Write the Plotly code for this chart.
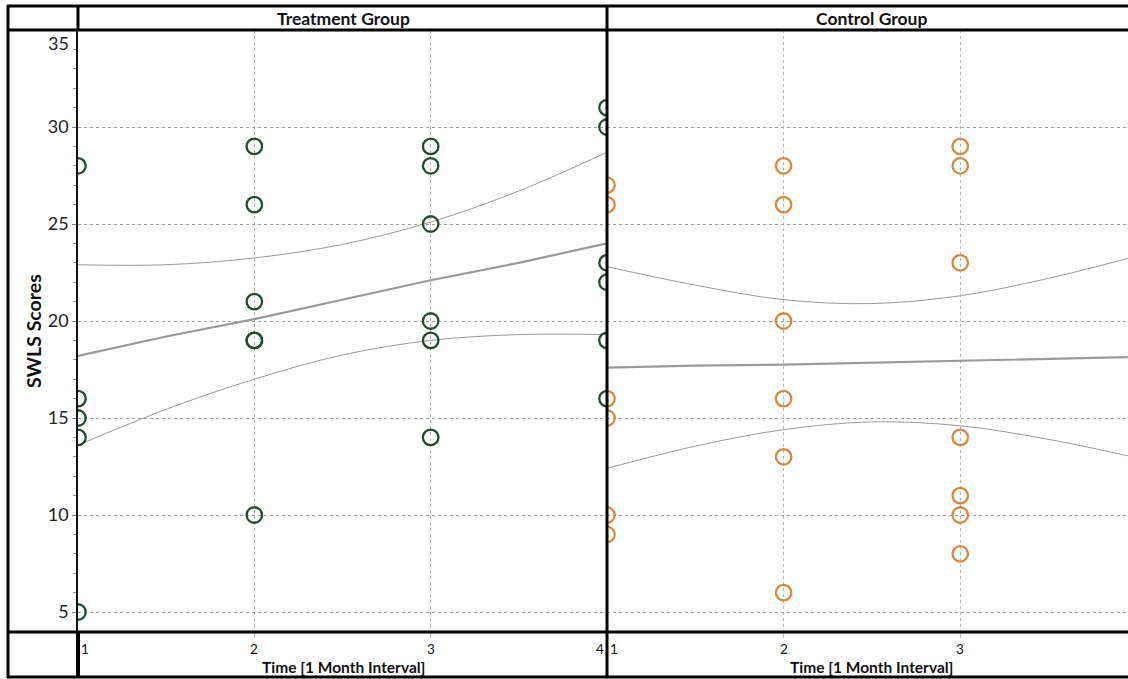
import plotly.graph_objects as go

W, H = 1128, 679

# ---------------- data ----------------
time_ticks = [1, 2, 3, 4]
panel_titles = ["Treatment Group", "Control Group"]
x_title = "Time [1 Month Interval]"
y_title = "SWLS Scores"
y_ticks = [5, 10, 15, 20, 25, 30]

treat_t1 = [28, 16, 15, 14, 5]
treat_t2 = [29, 26, 21, 19, 19, 10]
treat_t3 = [29, 28, 25, 20, 19, 14]
treat_t4 = [31, 30, 23, 22, 19, 16]

control_t1 = [27, 26, 16, 15, 10, 9]
control_t2 = [28, 26, 20, 16, 13, 6]
control_t3 = [29, 28, 23, 14, 11, 10, 8]
control_t4 = [28, 26, 19, 16, 15, 8]

fit_x = [1, 1.5, 2, 2.5, 3, 3.5, 4]
treat_fit = [18.2, 19.2, 20.1, 21.1, 22.1, 23.0, 24.0]
treat_upper = [22.9, 22.9, 23.25, 23.95, 25.1, 26.7, 28.7]
treat_lower = [13.6, 15.45, 17.0, 18.25, 19.0, 19.3, 19.3]
control_fit = [17.6, 17.7, 17.75, 17.85, 17.95, 18.05, 18.15]
control_upper = [22.8, 21.85, 21.1, 20.9, 21.3, 22.2, 23.35]
control_lower = [12.4, 13.55, 14.4, 14.8, 14.6, 13.9, 12.95]

# ---------------- styling ----------------
GREEN = "#1f4d2e"
ORANGE = "#d9883f"
FITC = "#9a9a9a"
FONT = "Lato"


def px(x):
    return x / W


def py(y):
    return 1 - y / H


fig = go.Figure()


def add_panel(groups, color, fit, upper, lower, xa, ya):
    fig.add_trace(go.Scatter(x=fit_x, y=upper, mode="lines", line=dict(color=FITC, width=1, shape="spline"),
                             xaxis=xa, yaxis=ya, hoverinfo="skip"))
    fig.add_trace(go.Scatter(x=fit_x, y=lower, mode="lines", line=dict(color=FITC, width=1, shape="spline"),
                             xaxis=xa, yaxis=ya, hoverinfo="skip"))
    fig.add_trace(go.Scatter(x=fit_x, y=fit, mode="lines", line=dict(color=FITC, width=2.2),
                             xaxis=xa, yaxis=ya, hoverinfo="skip"))
    xs, ys = [], []
    for t, vals in zip(time_ticks, groups):
        xs += [t] * len(vals)
        ys += vals
    fig.add_trace(go.Scatter(x=xs, y=ys, mode="markers",
                             marker=dict(symbol="circle-open", size=15.5, color=color, line=dict(width=2.3)),
                             xaxis=xa, yaxis=ya))


add_panel([treat_t1, treat_t2, treat_t3, treat_t4], GREEN, treat_fit, treat_upper, treat_lower, "x", "y")
add_panel([control_t1, control_t2, control_t3, control_t4], ORANGE, control_fit, control_upper, control_lower, "x2", "y2")

y_dom = [py(632), py(30)]
y_range = [3.97, 35]
x1_dom = [px(78), px(607)]
x2_dom = [px(607), 1.0]

common_x = dict(showgrid=True, gridcolor="#b4b4b4", griddash="dot", gridwidth=1,
                tickvals=time_ticks, showticklabels=False, ticks="outside", ticklen=5,
                tickcolor="#bbbbbb", zeroline=False, showline=False, fixedrange=True)
common_y = dict(range=y_range, domain=y_dom, tickvals=y_ticks, showgrid=True, gridcolor="#a0a0a0",
                griddash="dot", gridwidth=1, zeroline=False, fixedrange=True)

fig.update_layout(
    width=W, height=H, margin=dict(l=0, r=0, t=0, b=0),
    paper_bgcolor="white", plot_bgcolor="white", showlegend=False,
    font=dict(family=FONT, color="#222222"),
    xaxis=dict(domain=x1_dom, range=[1, 4], anchor="y", **common_x),
    xaxis2=dict(domain=x2_dom, range=[1, 3.95], anchor="y2", **common_x),
    yaxis=dict(anchor="x", showticklabels=True, tickfont=dict(size=18, family=FONT, color="#222"),
               ticks="outside", ticklen=4, tickcolor="#888",
               minor=dict(ticks="outside", ticklen=3, dtick=1, tick0=0, tickcolor="#999", showgrid=False),
               showline=True, linecolor="#111", linewidth=1.5, **common_y),
    yaxis2=dict(anchor="x2", showticklabels=False, showline=False, **common_y),
)

annotations = []
# "35" label sits just below the header line
annotations.append(dict(x=px(71), y=y_range[1], xref="paper", yref="y", text="35", showarrow=False,
                        xanchor="right", yanchor="middle", yshift=-13, font=dict(size=18, color="#222")))
# x tick labels for both panels
for xa in ("x", "x2"):
    for t in time_ticks:
        if t == 1:
            anc, sh = "left", 1
        elif t == 4:
            anc, sh = "right", -1
        else:
            anc, sh = "center", 0
        annotations.append(dict(x=t, y=py(649), xref=xa, yref="paper", text=str(t), showarrow=False,
                                xanchor=anc, yanchor="middle", xshift=sh,
                                font=dict(size=13.5, color="#111")))


def label(text, x, y, size, angle=0):
    annotations.append(dict(x=px(x), y=py(y), xref="paper", yref="paper", text="<b>%s</b>" % text,
                            showarrow=False, xanchor="center", yanchor="middle", textangle=angle,
                            font=dict(size=size, color="#111")))


label(panel_titles[0], 343, 18, 17.5)
label(panel_titles[1], 871, 18, 17.5)
label(x_title, 343, 667, 15.5)
label(x_title, 871, 667, 15.5)
label(y_title, 33, 331, 19.5, -90)
fig.update_layout(annotations=annotations)

# table frame lines
LW = 3
shapes = []


def hline(y, x0, x1, w=LW):
    shapes.append(dict(type="line", xref="paper", yref="paper", x0=px(x0), x1=px(x1), y0=py(y), y1=py(y),
                       line=dict(color="black", width=w)))


def vline(x, y0, y1, w=LW):
    shapes.append(dict(type="line", xref="paper", yref="paper", x0=px(x), x1=px(x), y0=py(y0), y1=py(y1),
                       line=dict(color="black", width=w)))


hline(6, 7, 1128)
hline(30, 7, 1128)
hline(632, 7, 1128)
hline(677, 7, 1128)
vline(8, 5, 678)
vline(78, 5, 31)
vline(78, 631, 678, 4)
vline(607, 5, 678)
fig.update_layout(shapes=shapes)

fig.write_html("out.html")
